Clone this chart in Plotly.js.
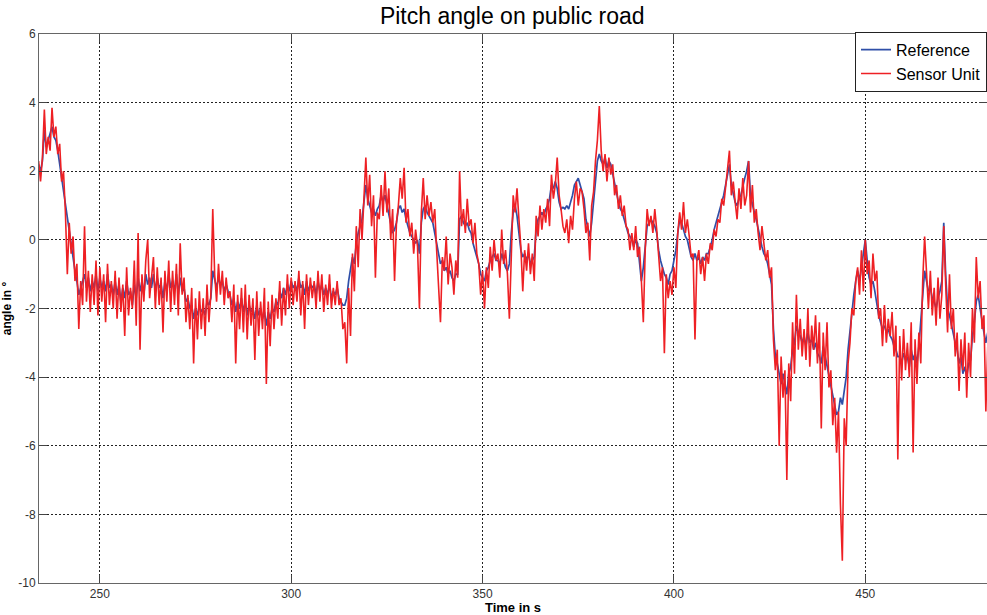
<!DOCTYPE html>
<html>
<head>
<meta charset="utf-8">
<script src="https://cdn.plot.ly/plotly-3.0.1.min.js"></script>
<style>html,body{margin:0;padding:0;background:#fff;}#chart{width:987px;height:615px;}</style>
</head>
<body>
<div id="chart"></div>
<script>
// Sample timing (s)
const tStart = 234.0;
const tStep = 0.5;

// Reference pitch angle (deg), one value per 0.5 s
const referenceAngle = [
 2.2, 2.0, 2.3, 3.2, 2.7, 2.9, 3.1, 3.3, 3.0, 2.9,
 2.6, 2.2, 1.8, 1.5, 1.0, 0.6, 0.3, -0.2, -0.5, -0.9,
 -1.2, -1.6, -1.4, -1.2, -1.0, -1.4, -1.1, -1.5, -1.2, -1.4,
 -1.0, -1.5, -1.1, -1.4, -1.2, -1.5, -1.0, -1.4, -1.3, -1.6,
 -1.2, -1.6, -1.3, -1.8, -1.4, -1.7, -1.2, -1.6, -1.5, -1.9,
 -1.3, -1.7, -1.1, -1.5, -1.2, -1.6, -1.0, -1.3, -1.1, -1.4,
 -1.0, -1.5, -1.1, -1.4, -1.3, -1.7, -1.2, -1.5, -1.0, -1.4,
 -1.2, -1.5, -1.0, -1.6, -1.1, -1.5, -1.4, -1.8, -1.7, -2.0,
 -1.9, -2.3, -2.0, -2.2, -1.9, -2.1, -2.0, -2.2, -1.8, -1.9,
 -1.7, -0.9, -1.2, -1.4, -1.1, -1.3, -1.2, -1.5, -1.3, -1.5,
 -1.6, -1.9, -1.7, -2.1, -1.8, -2.0, -1.7, -2.1, -1.8, -2.2,
 -1.9, -2.1, -2.0, -2.3, -1.9, -2.2, -2.0, -2.3, -2.1, -2.5,
 -2.1, -2.3, -2.0, -2.1, -1.8, -1.9, -1.5, -1.7, -1.4, -1.6,
 -1.3, -1.5, -1.2, -1.4, -1.3, -1.5, -1.1, -1.4, -1.3, -1.6,
 -1.2, -1.5, -1.3, -1.4, -1.3, -1.6, -1.2, -1.5, -1.3, -1.6,
 -1.4, -1.6, -1.3, -1.7, -1.5, -1.6, -1.4, -1.7, -1.8, -1.9,
 -1.9, -1.7, -1.2, -0.9, -0.5, -0.7, -0.1, 0.2, 0.4, 0.6,
 1.1, 1.6, 1.2, 1.0, 0.8, 0.9, 0.7, 0.9, 1.0, 1.3,
 1.1, 1.3, 1.0, 0.8, 0.4, 0.2, 0.3, 0.5, 0.9, 1.0,
 0.8, 0.9, 0.6, 0.4, 0.2, 0.1, 0.0, -0.1, 0.0, -0.4,
 0.5, 0.9, 1.0, 0.8, 0.7, 0.6, 0.5, 0.2, -0.1, -0.4,
 -0.7, -0.6, -0.9, -0.8, -1.0, -0.9, -1.1, -1.2, -1.0, -1.0,
 0.6, 0.7, 0.5, 0.4, 0.5, 0.3, 0.2, -0.1, -0.3, -0.5,
 -0.7, -1.0, -1.1, -1.2, -0.9, -0.8, -0.6, -0.5, -0.4, -0.6,
 -0.6, -0.7, -0.4, -0.6, -0.8, -0.9, -0.7, 0.2, 0.8, 1.0,
 0.7, 0.2, -0.3, -0.5, -0.4, -0.6, -0.4, -0.7, -0.6, -0.5,
 0.3, 0.6, 0.7, 0.8, 0.7, 0.9, 1.0, 1.2, 1.6, 1.5,
 1.7, 1.5, 1.1, 0.9, 0.95, 0.9, 1.0, 0.9, 1.1, 1.3,
 1.6, 1.7, 1.8, 1.6, 1.4, 1.2, 0.6, 0.3, 0.1, 0.5,
 1.1, 1.7, 2.3, 2.5, 2.3, 2.2, 2.4, 2.1, 2.3, 2.2,
 1.9, 1.6, 1.3, 1.1, 0.9, 0.8, 0.6, 0.4, 0.2, 0.1,
 0.0, -0.2, 0.0, -0.1, -0.6, -1.2, -0.8, -0.2, 0.4, 0.5,
 0.6, 0.5, 0.4, 0.2, -0.3, -0.6, -0.8, -1.0, -1.1, -1.3,
 -1.0, -0.9, -0.6, -0.3, 0.2, 0.6, 0.5, 0.3, 0.1, 0.0,
 -0.3, -0.5, -0.6, -0.4, -0.6, -0.5, -0.7, -0.5, -0.6, -0.4,
 -0.4, -0.2, 0.0, 0.3, 0.5, 0.7, 0.9, 1.1, 1.3, 1.6,
 1.9, 2.2, 1.6, 1.3, 1.1, 1.0, 1.2, 1.3, 1.6, 1.8,
 2.0, 2.3, 1.3, 1.0, 0.8, 0.6, 0.3, 0.0, -0.2, -0.4,
 -0.5, -0.7, -1.0, -1.3, -2.6, -3.4, -3.6, -3.9, -4.2, -3.9,
 -4.2, -4.5, -3.9, -3.7, -3.2, -3.0, -2.5, -2.7, -2.8, -3.0,
 -2.8, -3.1, -2.7, -3.0, -2.9, -3.2, -3.0, -3.3, -3.4, -3.6,
 -3.1, -3.4, -3.6, -3.9, -4.2, -4.6, -4.9, -5.1, -5.0, -4.6,
 -4.8, -4.4, -4.0, -3.2, -2.6, -2.1, -1.6, -1.2, -0.9, -1.2,
 -0.8, -0.4, 0.0, -0.6, -1.1, -1.3, -1.2, -1.5, -1.9, -2.2,
 -2.4, -2.6, -2.5, -2.7, -2.6, -2.8, -2.9, -3.1, -3.2, -3.4,
 -3.4, -3.6, -3.3, -3.5, -3.4, -3.7, -3.2, -3.5, -3.3, -3.6,
 -3.1, -2.4, -1.6, -0.9, -1.2, -1.5, -1.4, -1.7, -1.8, -2.0,
 -1.7, -1.5, -1.2, 0.5, -1.0, -2.0, -2.2, -2.5, -2.7, -3.0,
 -3.2, -3.6, -3.4, -3.9, -3.7, -4.0, -3.6, -3.5, -2.8, -2.4,
 -1.8, -1.6, -2.0, -2.4, -2.7, -3.0, -2.7
];

// Sensor unit pitch angle (deg), one value per 0.5 s
const sensorAngle = [
 2.3, 1.7, 2.4, 3.8, 2.5, 3.0, 2.6, 3.85, 3.0, 3.3,
 2.5, 2.8, 1.7, 2.0, 0.8, -1.0, 0.5, -0.4, 0.1, -1.2,
 -0.7, -2.6, -1.2, -1.9, 0.4, -1.8, -0.9, -2.1, -1.0, -1.9,
 -0.6, -2.2, -0.8, -1.8, -1.0, -2.4, -0.7, -1.9, -1.2, -2.0,
 -0.9, -2.3, -1.1, -2.1, -1.3, -2.8, -0.8, -2.2, -1.4, -2.0,
 -0.6, -2.5, 0.2, -3.2, -1.0, -1.8, -0.6, 0.0, -1.7, -1.0,
 -0.5, -2.0, -0.8, -1.9, -1.1, -2.7, -0.9, -1.8, -0.6, -2.1,
 -0.9, -1.9, -0.7, -2.2, -0.1, -1.6, -1.1, -2.4, -1.6, -2.6,
 -1.4, -3.6, -1.7, -2.9, -1.5, -2.6, -1.7, -2.8, -1.3, -2.4,
 -1.6, 0.9, -1.0, -1.8, -0.7, -1.6, -0.9, -1.9, -1.1, -1.7,
 -1.5, -2.4, -1.3, -3.6, -1.6, -2.6, -1.4, -2.7, -1.3, -2.9,
 -1.6, -2.5, -1.7, -3.5, -1.5, -2.8, -1.8, -2.6, -1.4, -4.2,
 -1.8, -3.1, -1.6, -2.6, -1.7, -2.3, -1.2, -2.5, -1.4, -2.2,
 -1.0, -2.0, -1.1, -1.9, -1.2, -1.8, -0.9, -2.2, -1.2, -2.6,
 -1.0, -1.9, -1.1, -1.7, -1.2, -2.0, -0.9, -1.8, -1.0, -2.1,
 -1.3, -1.9, -1.0, -2.0, -1.4, -1.9, -1.2, -1.9, -1.7, -2.6,
 -2.4, -3.6, -1.4, -2.8, -0.4, -1.5, 0.4, -0.8, 0.9, 0.0,
 1.2, 2.4, 1.0, 1.9, 0.4, 1.3, -1.1, 0.8, 0.6, 1.6,
 0.7, 2.0, 0.8, 1.5, 0.0, 0.9, -1.2, 0.5, 1.0, 1.8,
 1.2, 2.1, 0.5, 0.9, 0.1, 0.5, -0.4, 0.3, -0.2, -2.0,
 0.8, 1.8, 0.6, 1.3, 0.7, 1.1, 0.5, 0.9, -0.3, -1.2,
 -2.4, -0.5, -0.9, 0.1, -1.3, -0.4, -0.8, -1.6, -0.6, -1.1,
 2.0, 0.4, 0.9, 0.2, 1.2, 0.4, 0.6, -0.1, 0.5, -0.4,
 -0.7, -1.6, -0.9, -2.0, -0.8, -1.4, -0.2, -0.9, 0.0, -0.6,
 -0.4, -1.1, 0.3, -0.7, -0.3, -1.0, -2.3, -0.5, 1.3, 0.8,
 1.5, 0.6, -0.2, -1.5, -0.3, -0.9, -0.1, -1.0, -0.4, -1.2,
 0.7, 0.1, 1.0, 0.3, 0.9, 0.5, 1.2, 0.4, 1.9, 1.2,
 1.6, 2.4, 1.3, 0.9, 0.4, 0.2, 0.6, -0.1, 0.7, 0.3,
 1.2, 1.7, 1.0, 1.5, 1.4, 0.9, 0.2, 0.5, -0.6, 1.0,
 1.4, 2.3, 2.9, 3.9, 2.6, 2.0, 2.5, 1.7, 2.4, 1.9,
 2.2, 1.3, 1.6, 0.9, 1.3, 0.7, 1.0, 0.4, 0.3, -0.3,
 0.2, -0.3, 0.4, -0.5, -0.2, -1.2, -2.4, -0.3, 0.9, 0.4,
 0.7, 0.2, 0.9, 0.3, -0.4, -1.2, -0.8, -3.3, -1.0, -1.7,
 -1.2, -1.6, -0.8, -1.4, 0.2, 0.8, 0.3, 1.1, 0.2, 0.6,
 0.1, -0.5, -0.4, -2.9, -0.6, -0.3, -1.0, -0.5, -1.2, -0.4,
 -0.7, -0.1, -0.3, 0.3, 0.1, 0.6, 0.5, 1.2, 1.0, 1.5,
 2.1, 2.6, 1.3, 1.7, 1.1, 0.6, 1.5, 0.9, 1.8, 1.0,
 1.3, 2.3, 0.8, 1.6, 0.5, 0.9, 0.2, -0.3, 0.4, -0.2,
 -0.6, -0.3, -1.1, -0.8, -2.9, -3.8, -3.2, -6.0, -3.4, -4.6,
 -3.8, -7.0, -3.6, -4.7, -2.4, -3.9, -1.6, -3.2, -2.3, -3.4,
 -2.6, -3.5, -2.0, -3.7, -2.5, -3.2, -2.2, -3.6, -2.4, -5.5,
 -2.7, -3.8, -2.4, -4.3, -3.8, -5.4, -4.6, -6.2, -5.0, -7.7,
 -9.35, -5.2, -6.0, -3.6, -3.0, -2.0, -2.2, -1.2, -0.8, -1.6,
 -0.3, -1.5, 0.0, -1.0, -0.6, -1.7, -0.4, -1.2, -0.9, -2.3,
 -2.0, -3.1, -1.9, -3.0, -2.3, -2.8, -2.1, -3.4, -2.5, -6.4,
 -2.8, -4.1, -2.6, -3.8, -3.0, -4.0, -2.4, -6.2, -2.9, -4.2,
 -2.7, -3.6, -1.2, 0.1, -0.9, -2.0, -0.9, -2.2, -1.4, -2.5,
 -1.1, -2.3, -1.6, 0.4, -1.3, -2.7, -1.0, -2.6, -2.0, -3.4,
 -2.7, -4.4, -2.9, -3.8, -2.7, -4.6, -3.0, -4.0, -2.0, -3.0,
 -0.5, -1.7, -1.2, -2.6, -2.2, -5.0, -3.1
];

const xTicks = [250, 300, 350, 400, 450];
const yTicks = [-10, -8, -6, -4, -2, 0, 2, 4, 6];

const timeRef = referenceAngle.map((_, i) => tStart + i * tStep);
const timeSens = sensorAngle.map((_, i) => tStart + i * tStep);

const font = 'Liberation Sans, Arial, sans-serif';

const traces = [
  {x: timeRef, y: referenceAngle, type: 'scatter', mode: 'lines', name: 'Reference',
   line: {color: '#2f4fa8', width: 1.7}},
  {x: timeSens, y: sensorAngle, type: 'scatter', mode: 'lines', name: 'Sensor Unit',
   line: {color: '#ee2024', width: 1.6}}
];

const axisCommon = {
  showline: true, linecolor: '#666', linewidth: 1, mirror: 'ticks',
  ticks: 'inside', ticklen: 8, tickcolor: '#444', tickwidth: 1,
  showgrid: true, gridcolor: '#222', gridwidth: 1, griddash: '2px,2px',
  zeroline: false, tickfont: {family: font, size: 12, color: '#333'}
};

const layout = {
  width: 987, height: 615,
  margin: {l: 39, r: 0, t: 34, b: 32},
  paper_bgcolor: '#fff', plot_bgcolor: '#fff',
  title: {text: 'Pitch angle on public road', font: {family: font, size: 23, color: '#000'},
          x: 0.519, xanchor: 'center', y: 0.974, yanchor: 'middle'},
  xaxis: Object.assign({}, axisCommon, {
    range: [234.1, 481.8], tickvals: xTicks, ticktext: xTicks.map(String),
    title: {text: '<b>Time in s</b>', font: {family: font, size: 13, color: '#000'}, standoff: 1}
  }),
  yaxis: Object.assign({}, axisCommon, {
    range: [-10, 6], tickvals: yTicks, ticktext: yTicks.map(String),
    title: {text: '<b>angle in °</b>', font: {family: font, size: 12, color: '#000'}, standoff: 8}
  }),
  showlegend: true,
  legend: {x: 1, xanchor: 'right', y: 1.004, yanchor: 'top', bgcolor: '#fff',
           bordercolor: '#222', borderwidth: 1, font: {family: font, size: 16, color: '#000'},
           tracegroupgap: 0, itemwidth: 30}
};

Plotly.newPlot('chart', traces, layout, {displayModeBar: false, staticPlot: true});
</script>
</body>
</html>
